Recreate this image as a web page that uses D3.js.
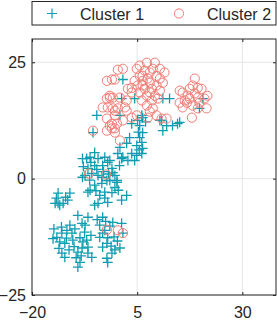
<!DOCTYPE html>
<html>
<head>
<meta charset="utf-8">
<script src="https://d3js.org/d3.v7.min.js"></script>
<style>
  body { margin: 0; background: #fff; }
  text { font-family: "Liberation Sans", Arial, sans-serif; fill: #262626; }
</style>
</head>
<body>
<script>
// cluster 1 (plus markers)
var c1 = [
  [-13.8,-5.3],[-12.6,-5.3],[-11.5,-4.6],[-11.0,-3.1],[-13.4,-5.7],[-14.5,-5.3],
  [-6.7,-2.9],[-3.9,-3.6],[-2.7,-4.2],[-4.3,-5.3],[-5.1,-5.7],[-2.0,-5.1],[1.3,-4.6],[2.5,-3.6],
  [-9.1,-7.9],[-6.7,-8.3],[-8.1,-9.6],[-7.4,-10.0],[-11.0,-10.0],[-11.7,-11.1],[-10.5,-11.7],[-12.9,-11.7],
  [-14.1,-12.6],[-13.4,-13.6],[-12.2,-13.9],[-10.3,-13.2],[-8.6,-12.7],[-7.9,-13.6],[-7.0,-13.2],[-6.7,-14.7],
  [-9.1,-15.8],[-8.1,-14.9],[-6.7,-16.0],[-8.6,-18.0],[-5.8,-16.9],[-12.2,-16.9],[-12.9,-16.0],
  [-3.2,-8.3],[-3.9,-10.0],[-3.2,-11.7],[-2.0,-12.7],[-2.2,-13.9],[-1.0,-16.0],[-2.2,-17.1],[-0.3,-15.3],
  [0.9,-14.9],[-2.0,-18.0],[-2.7,-11.1],[1.6,-11.7],
  [-5.5,9.9],[-6.2,4.6],[-5.1,5.6],[-7.0,4.3],[-4.3,4.3],[-2.7,4.6],[-2.0,3.5],[-3.2,2.8],[-5.1,2.8],
  [-6.7,2.2],[-5.8,1.1],[-7.4,0.7],[-4.3,0.7],[-1.0,2.2],[-0.3,0.7],[-1.5,-0.4],[0.2,-0.8],[-0.3,-1.9],
  [-3.4,-1.0],[-5.1,-1.4],[-6.2,-2.5],[-2.7,-2.9],[-13.8,-3.1],[1.3,4.3],
  [6.1,13.6],[5.1,12.5],[3.7,11.8],[10.4,12.5],[12.0,11.4],[14.6,11.8],[11.1,10.3],[6.3,9.9],[5.6,8.8],
  [6.1,7.8],[4.9,7.1],[6.3,6.5],[6.1,5.4],[4.9,5.0],[2.5,7.6],[0.9,6.7],[0.4,5.4],[1.6,4.6],[2.8,3.9],
  [4.4,3.9],[3.7,5.4],[-1.5,3.9],[-0.8,1.3],[0.2,-0.4],[-3.4,0.3],[-2.2,-0.4],
  [20.6,17.2],[19.8,15.1],[11.1,17.2],[12.7,17.2],[10.8,12.5],[13.4,11.4],[15.1,12.1],[6.3,13.1],[5.6,11.4],
  [1.6,21.3],[1.3,17.2],[4.4,17.2],[-4.6,13.6],[0.9,13.6],
  [-8.0,4.3],[-8.0,0.3],
  [-0.8,-9.4],[1.3,-9.6],[-15.0,-12.9],[-9.1,-19.0],[-3.9,-12.6],[-3.2,-14.7],[-14.8,-10.8],
  [-13.0,-10.4],[-11.8,-12.8],[-9.8,-10.8],[-10.0,-14.6],[-11.2,-15.3],[-13.6,-15.0],[-9.5,-17.0],
  [-7.5,-11.5],[-6.0,-12.2],[-8.3,-16.6],
  [-1.5,-10.2],[-0.5,-12.5],[0.3,-13.4],[-1.2,-14.5],[-4.5,-8.8],[-2.5,-9.2],
  [-12.0,-4.0],[-14.2,-4.2],
  [-6.0,3.5],[-4.6,2.0],[-7.8,2.6],[-3.0,1.5],[-1.8,1.0],[0.8,2.8],[-6.3,-0.3],[-4.8,-2.6],[-1.0,-3.0],[0.5,-2.5],
  [5.3,10.0],[7.0,12.2],[3.2,8.8],[5.5,6.2]
];

// cluster 2 (circle markers)
var c2 = [
  [1.6,23.6],[0.4,23.4],[4.9,23.6],[-2.2,21.0],[-1.0,21.3],[-0.3,21.3],[6.3,22.1],[3.7,19.5],[2.8,19.3],
  [-1.5,17.4],[-2.2,17.2],[-3.2,15.3],[-2.0,15.3],[-0.8,15.1],[0.4,15.1],[2.5,14.6],[-2.2,12.9],[-1.0,11.8],
  [1.6,12.5],[-5.5,10.3],
  [-2.2,10.3],[-1.0,10.8],[-0.3,9.9],[-1.5,11.4],[0.9,8.2],[4.9,13.6],[7.5,13.1],[9.6,13.6],[10.8,12.9],
  [12.0,12.9],[8.7,15.1],[15.8,15.3],[15.1,16.3],
  [-6.5,1.1],[-2.4,0.9],[-2.2,-11.0],[0.4,-11.1],[1.6,-11.7],
  [18.7,21.5],[18.2,20.0],[19.4,19.5],[20.3,19.3],[17.5,19.3],[15.1,18.9],[15.8,18.5],[17.5,17.2],[16.8,16.3],
  [18.2,15.7],[19.8,16.3],[21.5,15.1],[19.4,15.1],[18.0,13.1],[21.0,17.2],[21.7,17.8],[17.0,17.8],[18.7,18.3],
  [16.3,16.8],[19.4,17.4],
  [5.6,24.3],[7.3,24.9],[8.7,23.6],[9.6,22.1],[8.0,20.6],[6.3,20.0],[8.5,19.3],[7.3,17.8],[9.2,17.8],[10.4,21.5],
  [5.6,22.1],[5.6,18.5],[6.8,23.2],[8.0,22.8],[6.3,21.0],[7.5,21.5],[6.8,19.3],[8.0,18.5],[9.6,20.0],[10.4,18.9],
  [5.1,20.0],[6.1,16.8],[8.5,16.8],[9.9,17.2],[11.1,20.6],[4.4,21.0],[9.2,24.9],[10.4,23.6],[7.3,15.7],[11.5,22.8],
  [-1.5,17.8],[-0.8,17.4],[0.9,17.4],[2.5,16.8],[3.7,18.5],[-0.3,14.6],[-0.3,13.6],[0.2,11.8],[-0.3,10.8],
  [2.1,15.3],[3.7,13.1],[8.0,14.4]
];

var xTicks = [-20, 5, 30];
var yTicks = [-25, 0, 25];
var names = ["Cluster 1", "Cluster 2"];

var col1 = "#109db1", col2 = "#f47b74";

var width = 277, height = 321;
var mLeft = 32, mRight = 276, mTop = 39, mBottom = 295;

var svg = d3.select("body").append("svg")
    .attr("width", width)
    .attr("height", height);

var x = d3.scaleLinear().domain([-20, 38]).range([mLeft, mRight]);
var y = d3.scaleLinear().domain([-25, 30]).range([mBottom, mTop]);

// grid
svg.selectAll(".gx").data(xTicks).enter().append("line")
    .attr("x1", d => x(d)).attr("x2", d => x(d))
    .attr("y1", mTop).attr("y2", mBottom)
    .attr("stroke", "#e6e6e6").attr("stroke-width", 1);
svg.selectAll(".gy").data(yTicks).enter().append("line")
    .attr("y1", d => y(d)).attr("y2", d => y(d))
    .attr("x1", mLeft).attr("x2", mRight)
    .attr("stroke", "#e6e6e6").attr("stroke-width", 1);

// points
var g1 = svg.append("g").attr("stroke", col1).attr("stroke-width", 1.3).attr("fill", "none");
g1.selectAll("path").data(c1).enter().append("path")
    .attr("d", function(d) {
      var cx = x(d[0]), cy = y(d[1]), s = 5;
      return "M" + (cx - s) + "," + cy + "H" + (cx + s) + "M" + cx + "," + (cy - s) + "V" + (cy + s);
    });

var g2 = svg.append("g").attr("stroke", col2).attr("stroke-width", 1).attr("fill", "none");
g2.selectAll("circle").data(c2).enter().append("circle")
    .attr("cx", d => x(d[0])).attr("cy", d => y(d[1])).attr("r", 4.6);

// axes (box with inward ticks)
var xAxisB = d3.axisBottom(x).tickValues(xTicks).tickSize(-3).tickPadding(12);
var xAxisT = d3.axisTop(x).tickValues(xTicks).tickSize(-3).tickFormat("");
var yAxisL = d3.axisLeft(y).tickValues(yTicks).tickSize(-3).tickPadding(6);
var yAxisR = d3.axisRight(y).tickValues(yTicks).tickSize(-3).tickFormat("");

function style(g) {
  g.select(".domain").remove();
  g.selectAll(".tick line").attr("stroke", "#262626");
  g.selectAll("text").attr("font-size", 16).attr("fill", "#262626")
    .attr("font-family", "Liberation Sans, Arial, sans-serif");
}
svg.append("g").attr("transform", "translate(0," + mBottom + ")").call(xAxisB).call(style);
svg.append("g").attr("transform", "translate(0," + mTop + ")").call(xAxisT).call(style);
svg.append("g").attr("transform", "translate(" + mLeft + ",0)").call(yAxisL).call(style);
svg.append("g").attr("transform", "translate(" + mRight + ",0)").call(yAxisR).call(style);

svg.append("rect")
    .attr("x", mLeft).attr("y", mTop)
    .attr("width", mRight - mLeft).attr("height", mBottom - mTop)
    .attr("fill", "none").attr("stroke", "#262626").attr("stroke-width", 1);

// legend
var lg = svg.append("g");
lg.append("rect").attr("x", 32).attr("y", 1.5).attr("width", 244).attr("height", 23.5)
    .attr("fill", "#fff").attr("stroke", "#262626").attr("stroke-width", 1);
lg.append("path")
    .attr("d", "M47,13.5H57M52,8.5V18.5")
    .attr("stroke", col1).attr("stroke-width", 1.2);
lg.append("circle").attr("cx", 179).attr("cy", 13.5).attr("r", 4.6)
    .attr("fill", "none").attr("stroke", col2);
lg.selectAll("text").data(names).enter().append("text")
    .attr("x", (d, i) => i === 0 ? 80 : 207)
    .attr("y", 19.5)
    .attr("font-size", 16)
    .text(d => d);
</script>
</body>
</html>
